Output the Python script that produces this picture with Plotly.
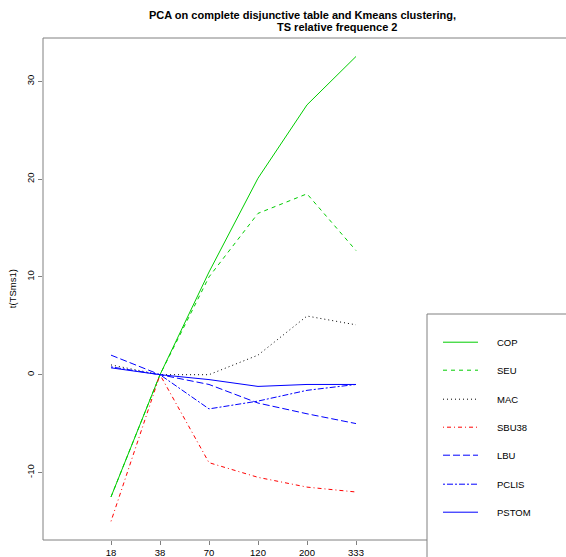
import plotly.graph_objects as go

# ---- data ----
categories = ["18", "38", "70", "120", "200", "333"]
series_names = ["COP", "SEU", "MAC", "SBU38", "LBU", "PCLIS", "PSTOM"]
COP = [-12.5, 0.0, 10.5, 20.1, 27.6, 32.55]
SEU = [-12.5, 0.0, 10.0, 16.5, 18.5, 12.7]
MAC = [1.0, 0.0, 0.0, 2.0, 6.0, 5.1]
SBU38 = [-15.0, 0.0, -9.0, -10.5, -11.5, -12.0]
LBU = [2.0, 0.0, -1.0, -2.9, -4.0, -5.0]
PCLIS = [0.8, 0.0, -3.5, -2.7, -1.6, -1.0]
PSTOM = [0.7, 0.0, -0.5, -1.2, -1.0, -1.0]
y_ticks = [-10, 0, 10, 20, 30]

series_values = [COP, SEU, MAC, SBU38, LBU, PCLIS, PSTOM]
colors = ["#00CD00", "#00CD00", "#000000", "#FF0000", "#0000FF", "#0000FF", "#0000FF"]
dashes = ["solid", "4px,4px", "1px,3px", "1px,3px,4px,3px", "7px,3px", "2px,2px,6px,2px", "solid"]

W, H = 566, 557
# target plot area in page pixels
L, R, T, B = 43, 566, 38.3, 540.3
pw, ph = R - L, B - T

def px2x(px):
    return (px - L) / pw

def px2y(py):
    return (B - py) / ph

x_pos = [i + 1 for i in range(len(categories))]

fig = go.Figure()
for name, vals, col, d in zip(series_names, series_values, colors, dashes):
    fig.add_trace(go.Scatter(x=x_pos, y=vals, mode="lines", name=name,
                             line=dict(color=col, width=1, dash=d),
                             showlegend=False))

frame_col = "#808080"
shapes = []
shapes.append(dict(type="line", xref="paper", yref="paper", x0=0, x1=0, y0=0, y1=1,
                   line=dict(color=frame_col, width=1)))
shapes.append(dict(type="line", xref="paper", yref="paper", x0=0, x1=1.0, y0=1, y1=1,
                   line=dict(color=frame_col, width=1)))
shapes.append(dict(type="line", xref="paper", yref="paper", x0=0, x1=px2x(427), y0=0, y1=0,
                   line=dict(color=frame_col, width=1)))
shapes.append(dict(type="rect", xref="paper", yref="paper", x0=px2x(427), x1=px2x(640),
                   y0=px2y(640), y1=px2y(314.3), fillcolor="white",
                   line=dict(color=frame_col, width=1), layer="above"))

annotations = []
row_px = [342.5, 370.5, 399.5, 427.5, 455.5, 484.5, 512.5]
for k, (name, col, d) in enumerate(zip(series_names, colors, dashes)):
    yy = px2y(row_px[k])
    shapes.append(dict(type="line", xref="paper", yref="paper", x0=px2x(443), x1=px2x(478),
                       y0=yy, y1=yy, line=dict(color=col, width=1, dash=d), layer="above"))
    annotations.append(dict(text=name, xref="paper", yref="paper", x=px2x(495), y=yy,
                            xanchor="left", yanchor="middle", showarrow=False,
                            font=dict(size=9.5, color="#000")))

annotations.append(dict(text="<b>PCA on complete disjunctive table and Kmeans clustering,</b>",
                        xref="paper", yref="paper", x=px2x(302.5), y=px2y(15),
                        xanchor="center", yanchor="middle", showarrow=False,
                        font=dict(size=11, color="#000")))
annotations.append(dict(text="<b>TS relative frequence 2</b>",
                        xref="paper", yref="paper", x=px2x(337), y=px2y(27),
                        xanchor="center", yanchor="middle", showarrow=False,
                        font=dict(size=11, color="#000")))
annotations.append(dict(text="t(TSms1)", xref="paper", yref="paper", x=px2x(12.5), y=px2y(289),
                        xanchor="center", yanchor="middle", showarrow=False, textangle=-90,
                        font=dict(size=9.5, color="#000")))

fig.update_layout(
    width=W, height=H,
    margin=dict(l=L, r=W - R, t=T, b=H - B, pad=0),
    plot_bgcolor="white", paper_bgcolor="white",
    font=dict(family="Liberation Sans, Arial, sans-serif", size=9.5, color="#000"),
    shapes=shapes, annotations=annotations,
    showlegend=False,
)
fig.update_xaxes(range=[1 - (111 - L) / 49.0, 1 + (R - 111) / 49.0],
                 tickmode="array", tickvals=x_pos, ticktext=categories,
                 ticks="outside", ticklen=4, tickcolor=frame_col, tickwidth=1,
                 showgrid=False, zeroline=False, showline=False,
                 tickfont=dict(size=9.5, color="#000"))
fig.update_yaxes(range=[-16.91, 34.44], tickmode="array", tickvals=y_ticks,
                 ticktext=[str(v) for v in y_ticks], tickangle=-90,
                 ticks="outside", ticklen=4, tickcolor=frame_col, tickwidth=1,
                 showgrid=False, zeroline=False, showline=False,
                 tickfont=dict(size=9.5, color="#000"))

fig.write_html("out.html", config={"displayModeBar": False},
               post_script="document.body.style.margin='0';document.body.style.overflow='hidden';")
